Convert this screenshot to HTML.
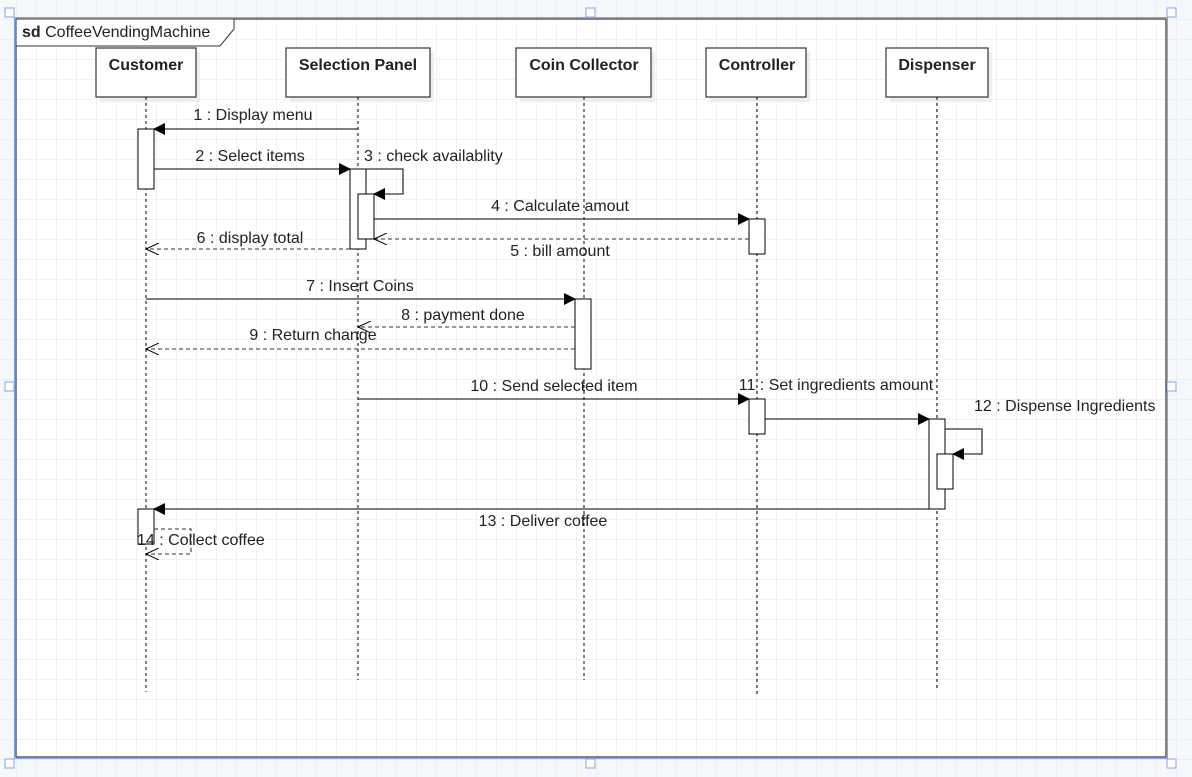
<!DOCTYPE html>
<html><head><meta charset="utf-8"><style>
html,body{margin:0;padding:0;background:#fff;}
svg{display:block;}
text{font-family:"Liberation Sans",Arial,sans-serif;font-size:16px;fill:#222;}
</style></head><body>
<svg width="1192" height="777" viewBox="0 0 1192 777" xmlns="http://www.w3.org/2000/svg">
<defs>
<pattern id="g" x="16" y="19" width="20" height="20" patternUnits="userSpaceOnUse">
<path d="M20 0H0V20" fill="none" stroke="#e6e6e6" stroke-width="1"/>
</pattern>
<marker id="af" markerWidth="12" markerHeight="12" refX="11" refY="6" orient="auto" markerUnits="userSpaceOnUse">
<path d="M0,0 L12,6 L0,12 Z" fill="#000"/>
</marker>
<marker id="ao" markerWidth="14" markerHeight="12" refX="13" refY="6" orient="auto" markerUnits="userSpaceOnUse">
<path d="M0,0 L13,6 L0,12" fill="none" stroke="#000" stroke-width="1"/>
</marker>
</defs>
<rect width="1192" height="777" fill="#f5f8fd"/>
<rect x="0" y="0" width="1192" height="777" fill="url(#g)"/>
<rect x="16" y="19" width="1150" height="738" fill="#fff"/>
<rect x="16" y="19" width="1150" height="738" fill="url(#g)"/>
<rect x="16" y="19" width="1150" height="738" fill="none" stroke="#333" stroke-width="1.2"/>
<rect x="14.5" y="17.5" width="1153" height="741" fill="none" stroke="#7ea6e8" stroke-width="1"/>
<g fill="#fff" stroke="#7ea6e8"><rect x="5" y="8" width="9" height="9"/><rect x="586" y="8" width="9" height="9"/><rect x="1167" y="8" width="9" height="9"/><rect x="5" y="382" width="9" height="9"/><rect x="1167" y="382" width="9" height="9"/><rect x="5" y="759" width="9" height="9"/><rect x="586" y="759" width="9" height="9"/><rect x="1167" y="759" width="9" height="9"/></g>
<path d="M16 19H234V29L220 46H16Z" fill="#fff" stroke="#333" stroke-width="1"/>
<text x="22" y="37"><tspan font-weight="bold">sd</tspan>  CoffeeVendingMachine</text>
<g fill="#eee"><rect x="100" y="52" width="100" height="50"/><rect x="290" y="52" width="144" height="50"/><rect x="520" y="52" width="135" height="50"/><rect x="710" y="52" width="100" height="50"/><rect x="890" y="52" width="102" height="50"/></g>
<g fill="#fff" stroke="#333" stroke-width="1.2"><rect x="96" y="48" width="100" height="49"/><rect x="286" y="48" width="144" height="49"/><rect x="516" y="48" width="135" height="49"/><rect x="706" y="48" width="100" height="49"/><rect x="886" y="48" width="102" height="49"/></g>
<g text-anchor="middle"><text x="146" y="70" font-weight="bold">Customer</text><text x="358" y="70" font-weight="bold">Selection Panel</text><text x="584" y="70" font-weight="bold">Coin Collector</text><text x="757" y="70" font-weight="bold">Controller</text><text x="937" y="70" font-weight="bold">Dispenser</text></g>
<g stroke="#000" stroke-dasharray="3,3" stroke-width="1"><line x1="146" y1="97" x2="146" y2="692"/><line x1="358" y1="97" x2="358" y2="680"/><line x1="584" y1="97" x2="584" y2="680"/><line x1="757" y1="97" x2="757" y2="695"/><line x1="937" y1="97" x2="937" y2="688"/></g>
<g fill="#fff" stroke="#000" stroke-width="1"><rect x="138" y="129" width="16" height="60"/><rect x="350" y="169" width="16" height="80"/><rect x="358" y="194" width="16" height="45"/><rect x="749" y="219" width="16" height="35"/><rect x="575" y="299" width="16" height="70"/><rect x="749" y="399" width="16" height="35"/><rect x="929" y="419" width="16" height="90"/><rect x="937" y="454" width="16" height="35"/><rect x="138" y="509" width="16" height="35"/></g>
<g fill="none" stroke="#333" stroke-width="1.3">
<path d="M358 129H154" marker-end="url(#af)"/>
<path d="M154 169H350" marker-end="url(#af)"/>
<path d="M366 169H403V194H374" marker-end="url(#af)"/>
<path d="M374 219H749" marker-end="url(#af)"/>
<path d="M146 299H575" marker-end="url(#af)"/>
<path d="M358 399H749" marker-end="url(#af)"/>
<path d="M765 419H929" marker-end="url(#af)"/>
<path d="M945 429H982V454H953" marker-end="url(#af)"/>
<path d="M929 509H154" marker-end="url(#af)"/>
</g>
<g fill="none" stroke="#333" stroke-width="1.1" stroke-dasharray="4,3">
<path d="M749 239H374" marker-end="url(#ao)"/>
<path d="M350 249H146" marker-end="url(#ao)"/>
<path d="M575 327H358" marker-end="url(#ao)"/>
<path d="M575 349H146" marker-end="url(#ao)"/>
<path d="M154 529H191V554H146" marker-end="url(#ao)"/>
</g>
<g text-anchor="middle">
<text x="253" y="120">1 : Display menu</text>
<text x="250" y="161">2 : Select items</text>
<text x="560" y="211">4 : Calculate amout</text>
<text x="560" y="256">5 : bill amount</text>
<text x="250" y="243">6 : display total</text>
<text x="360" y="291">7 : Insert Coins</text>
<text x="463" y="320">8 : payment done</text>
<text x="313" y="340">9 : Return change</text>
<text x="554" y="391">10 : Send selected item</text>
<text x="836" y="390">11 : Set ingredients amount</text>
<text x="543" y="526">13 : Deliver coffee</text>
</g>
<text x="364" y="161">3 : check availablity</text>
<text x="974" y="411">12 : Dispense Ingredients</text>
<text x="137" y="545">14 : Collect coffee</text>
</svg>
</body></html>
